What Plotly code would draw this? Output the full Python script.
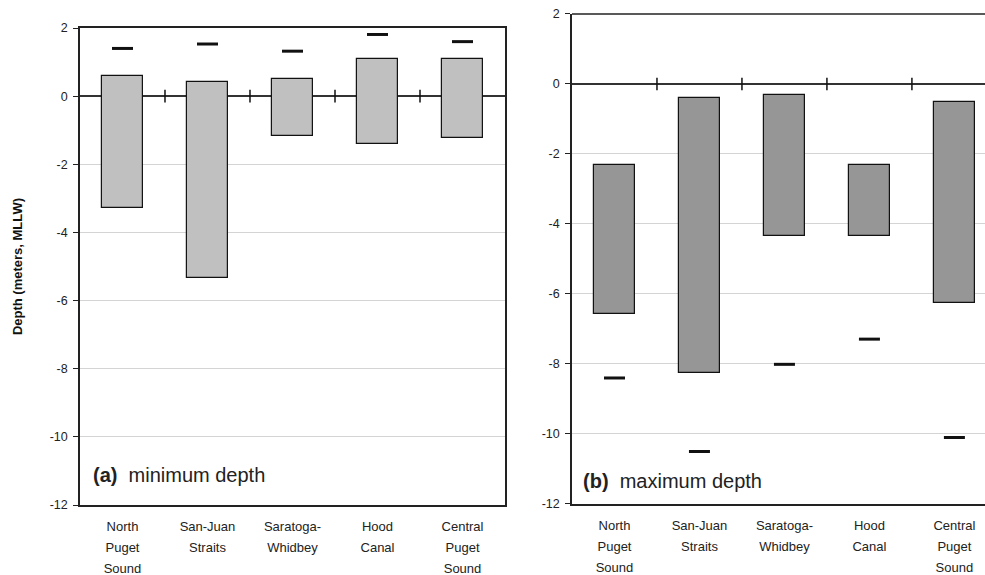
import plotly.graph_objects as go

# Sub-basin names (x-axis labels)
regions = [["North", "Puget", "Sound"], ["San-Juan", "Straits"], ["Saratoga-", "Whidbey"],
           ["Hood", "Canal"], ["Central", "Puget", "Sound"]]

# (a) minimum depth: bar top, bar bottom, and extreme marker (m, MLLW)
min_top = [0.59, 0.42, 0.49, 1.09, 1.09]
min_bottom = [-3.28, -5.33, -1.17, -1.39, -1.24]
min_extreme = [1.40, 1.53, 1.32, 1.81, 1.60]

# (b) maximum depth: bar top, bar bottom, and extreme marker (m, MLLW)
max_top = [-2.31, -0.40, -0.31, -2.31, -0.50]
max_bottom = [-6.56, -8.26, -4.35, -4.35, -6.25]
max_extreme = [-8.40, -10.50, -8.01, -7.29, -10.10]

y_ticks = [2, 0, -2, -4, -6, -8, -10, -12]

idx = list(range(len(regions)))
boundaries = [i + 0.5 for i in idx[:-1]]
FONT = "Arial, Liberation Sans, sans-serif"

# multi-line labels: small glyphs on a wider line pitch
label_text = ["<br>".join(f"<span style='font-size:13px'>{w}</span>" for w in words)
              for words in regions]
y_text = [str(v) for v in y_ticks]  # plain hyphen minus

fig = go.Figure()


def add_panel(top, bottom, extreme, color, xa, ya):
    fig.add_trace(go.Bar(
        x=idx, y=[t - b for t, b in zip(top, bottom)], base=bottom,
        width=0.48, marker=dict(color=color, line=dict(color="#111", width=1.2)),
        xaxis=xa, yaxis=ya, showlegend=False, hoverinfo="skip"))
    fig.add_trace(go.Scatter(
        x=idx, y=extreme, mode="markers",
        marker=dict(symbol="line-ew", size=15, line=dict(color="#111", width=3)),
        xaxis=xa, yaxis=ya, showlegend=False, hoverinfo="skip"))
    # category-boundary ticks on the zero line
    fig.add_trace(go.Scatter(
        x=boundaries, y=[0] * len(boundaries), mode="markers",
        marker=dict(symbol="line-ns", size=9, line=dict(color="#111", width=1.5)),
        xaxis=xa, yaxis=ya, showlegend=False, hoverinfo="skip"))


add_panel(min_top, min_bottom, min_extreme, "#c0c0c0", "x", "y")
add_panel(max_top, max_bottom, max_extreme, "#969696", "x2", "y2")

xcommon = dict(tickmode="array", tickvals=idx, ticktext=label_text, showgrid=False,
               zeroline=False, ticks="", showline=True, linecolor="#222", linewidth=1.5,
               mirror=True, automargin=False, ticklabelstandoff=5,
               tickfont=dict(family=FONT, size=16, color="#222"))
ycommon = dict(range=[-12, 2], tickmode="array", tickvals=y_ticks, ticktext=y_text,
               showgrid=True, gridcolor="#d4d4d4", gridwidth=1, zeroline=True,
               zerolinecolor="#333", zerolinewidth=1.5, showline=True, linecolor="#222",
               linewidth=1.5, mirror=True, ticks="outside", ticklen=5, tickcolor="#222",
               automargin=False, ticklabelstandoff=3,
               tickfont=dict(family=FONT, size=12.5, color="#222"))

fig.update_layout(
    width=985, height=575, margin=dict(l=0, r=0, t=0, b=0, autoexpand=False),
    paper_bgcolor="white", plot_bgcolor="white", bargap=0,
    xaxis=dict(xcommon, domain=[0.0812, 0.5127], range=[-0.5, 4.5], anchor="y"),
    yaxis=dict(ycommon, domain=[0.1217, 0.9513], anchor="x",
               title=dict(text="<b>Depth (meters, MLLW)</b>", standoff=24,
                          font=dict(family=FONT, size=13, color="#111"))),
    xaxis2=dict(xcommon, domain=[0.5807, 1.0], range=[-0.5, 4.36], anchor="y2",
                mirror=False),
    yaxis2=dict(ycommon, domain=[0.1235, 0.9757], anchor="x2"),
    annotations=[
        dict(text="<b>(a)</b>  minimum depth", xref="x domain", yref="y domain",
             x=0.027, y=0.063, xanchor="left", yanchor="middle", showarrow=False,
             font=dict(family=FONT, size=20, color="#222")),
        dict(text="<b>(b)</b>  maximum depth", xref="x2 domain", yref="y2 domain",
             x=0.022, y=0.047, xanchor="left", yanchor="middle", showarrow=False,
             font=dict(family=FONT, size=20, color="#222")),
    ],
    # top border line of panel (b)
    shapes=[dict(type="line", xref="x2 domain", yref="y2 domain",
                 x0=0, x1=1, y0=1, y1=1, line=dict(color="#222", width=1.5))],
)

fig.write_html("out.html")
